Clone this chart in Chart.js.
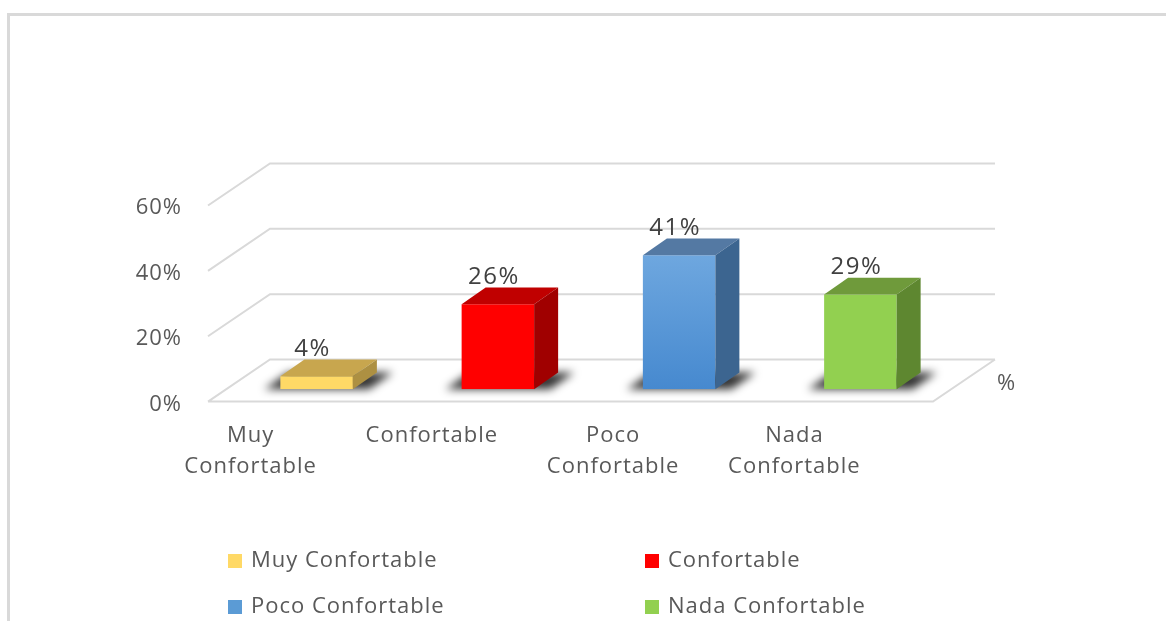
<!DOCTYPE html>
<html>
<head>
<meta charset="utf-8">
<title>Confort</title>
<script src="https://cdn.jsdelivr.net/npm/chart.js@4/dist/chart.umd.min.js"></script>
<style>
    html, body { margin: 0; padding: 0; background: #ffffff; }
    #wrap { position: relative; width: 1166px; height: 621px; overflow: hidden; }
    #frame {
        position: absolute; left: 7px; top: 13px; right: 0; bottom: 0;
        border-top: 3px solid #d9d9d9; border-left: 3px solid #d9d9d9;
    }
    #chart { position: absolute; left: 0; top: 0; }
</style>
</head>
<body>
<div id="wrap">
    <div id="frame"></div>
    <canvas id="chart" width="1166" height="621"></canvas>
</div>
<script>
// Chart data
const seriesName = "%";
const categories = [["Muy", "Confortable"], "Confortable", ["Poco", "Confortable"], ["Nada", "Confortable"]];
const legendLabels = ["Muy Confortable", "Confortable", "Poco Confortable", "Nada Confortable"];
const values = [0.04, 0.26, 0.41, 0.29];
const yTicks = [0, 0.2, 0.4, 0.6];

// Colours for each bar: front, top and side faces
const frontColors = ["#ffd966", "#ff0000", "#5b9bd5", "#92d050"];
const topColors = ["#c8a64e", "#c00000", "#5479a3", "#6f9a3b"];
const sideColors = ["#ad9042", "#a00000", "#3c6590", "#5e8730"];

const FONT = "'Open Sans', 'Noto Sans', sans-serif";
const GRID = "#d9d9d9";
const TEXT = "#595959";

// 3D offsets (px): bar depth and floor front/back edges relative to the bar plane
const barDepth = { dx: 24, dy: -16.7 };
const floorFront = { dx: -18, dy: 12.3 };
const floorBack = { dx: 44, dy: -29.8 };

const box3d = {
    id: "box3d",
    beforeDraw(chart) {
        // slightly wider text, applies to ticks and custom labels
        chart.ctx.letterSpacing = "1px";
    },
    beforeDatasetsDraw(chart) {
        const { ctx, chartArea, scales } = chart;
        const y = scales.y;
        const fl = chartArea.left + floorFront.dx;
        const bl = chartArea.left + floorBack.dx;
        const fr = chartArea.right + floorFront.dx;
        const br = chartArea.right + floorBack.dx;
        ctx.save();
        ctx.strokeStyle = GRID;
        ctx.lineWidth = 2;
        ctx.beginPath();
        yTicks.forEach((v) => {
            const py = y.getPixelForValue(v);
            // side wall
            ctx.moveTo(fl, py + floorFront.dy);
            ctx.lineTo(bl, py + floorBack.dy);
            // back wall
            ctx.lineTo(br, py + floorBack.dy);
        });
        // floor front and right edges
        const p0 = y.getPixelForValue(0);
        ctx.moveTo(fl, p0 + floorFront.dy);
        ctx.lineTo(fr, p0 + floorFront.dy);
        ctx.lineTo(br, p0 + floorBack.dy);
        ctx.stroke();

        // soft shadows on the floor under each bar
        const meta = chart.getDatasetMeta(0);
        ctx.filter = "blur(4px)";
        ctx.fillStyle = "rgba(0,0,0,0.8)";
        meta.data.forEach((bar) => {
            const x0 = bar.x - bar.width / 2 - 16;
            const x1 = bar.x + bar.width / 2 + 16;
            const b = bar.base;
            ctx.beginPath();
            ctx.moveTo(x0, b);
            ctx.lineTo(x1, b);
            ctx.lineTo(x1 + barDepth.dx, b + barDepth.dy);
            ctx.lineTo(x0 + barDepth.dx, b + barDepth.dy);
            ctx.closePath();
            ctx.fill();
        });
        ctx.restore();
    },
    afterDatasetsDraw(chart) {
        const { ctx } = chart;
        const meta = chart.getDatasetMeta(0);
        ctx.save();
        meta.data.forEach((bar, i) => {
            const l = bar.x - bar.width / 2;
            const r = bar.x + bar.width / 2;
            const t = bar.y;
            const b = bar.base;
            // top face
            ctx.fillStyle = topColors[i];
            ctx.beginPath();
            ctx.moveTo(l, t);
            ctx.lineTo(r, t);
            ctx.lineTo(r + barDepth.dx, t + barDepth.dy);
            ctx.lineTo(l + barDepth.dx, t + barDepth.dy);
            ctx.closePath();
            ctx.fill();
            // side face
            ctx.fillStyle = sideColors[i];
            ctx.beginPath();
            ctx.moveTo(r, t);
            ctx.lineTo(r + barDepth.dx, t + barDepth.dy);
            ctx.lineTo(r + barDepth.dx, b + barDepth.dy);
            ctx.lineTo(r, b);
            ctx.closePath();
            ctx.fill();
            // value label
            ctx.fillStyle = "#404040";
            ctx.font = "24px " + FONT;
            ctx.letterSpacing = "1.5px";
            ctx.textAlign = "center";
            ctx.textBaseline = "middle";
            ctx.fillText(Math.round(values[i] * 100) + "%", bar.x - 4, t - 27);
        });
        ctx.restore();
    },
    afterDraw(chart) {
        const { ctx, chartArea, scales } = chart;
        ctx.save();
        ctx.font = "22px " + FONT;
        ctx.textBaseline = "middle";
        ctx.fillStyle = TEXT;
        // depth axis (series) label
        ctx.textAlign = "left";
        ctx.fillText(seriesName, chartArea.right + floorBack.dx + 2, scales.y.getPixelForValue(0) - 6);

        // legend, two columns
        const cols = [228, 645];
        const rows = [561, 607];
        legendLabels.forEach((label, i) => {
            const cx = cols[i % 2];
            const cy = rows[Math.floor(i / 2)];
            ctx.fillStyle = frontColors[i];
            ctx.fillRect(cx, cy - 7, 14, 14);
            ctx.fillStyle = TEXT;
            ctx.fillText(label, cx + 23, cy);
        });
        ctx.restore();
    },
};

const ctx = document.getElementById("chart").getContext("2d");

new Chart(ctx, {
    type: "bar",
    data: {
        labels: categories,
        datasets: [
            {
                label: seriesName,
                data: values,
                backgroundColor: (c) => {
                    const i = c.dataIndex;
                    const chart = c.chart;
                    if (i !== 2 || !chart.chartArea) return frontColors[i];
                    const y = chart.scales.y;
                    const g = chart.ctx.createLinearGradient(0, y.getPixelForValue(values[i]), 0, y.getPixelForValue(0));
                    g.addColorStop(0, "#6ea7df");
                    g.addColorStop(1, "#4689cf");
                    return g;
                },
                borderWidth: 0,
                barPercentage: 0.8,
                categoryPercentage: 0.5,
            },
        ],
    },
    options: {
        responsive: false,
        animation: false,
        layout: {
            padding: { top: 193.2, left: 0, right: 215, bottom: 0 },
        },
        plugins: {
            legend: { display: false },
            tooltip: { enabled: false },
        },
        scales: {
            x: {
                grid: { display: false, drawTicks: false },
                border: { display: false },
                ticks: {
                    color: TEXT,
                    font: { family: FONT, size: 22, lineHeight: 1.42 },
                    padding: 31,
                    labelOffset: -66,
                    maxRotation: 0,
                    autoSkip: false,
                },
                afterFit: (s) => { s.height = 621 - 389.3; },
            },
            y: {
                min: 0,
                max: 0.6,
                grid: { display: false, drawTicks: false },
                border: { display: false },
                ticks: {
                    stepSize: 0.2,
                    color: TEXT,
                    font: { family: FONT, size: 22 },
                    padding: 44,
                    labelOffset: 15,
                    callback: (v) => Math.round(v * 100) + "%",
                },
                afterFit: (s) => { s.width = 226; },
            },
        },
    },
    plugins: [box3d],
});
</script>
</body>
</html>
